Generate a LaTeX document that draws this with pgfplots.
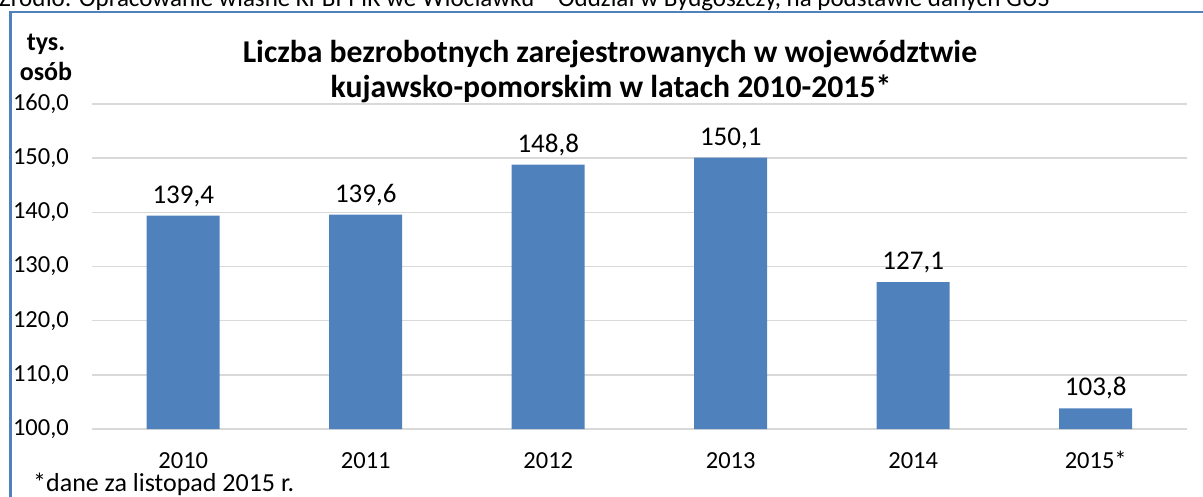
\documentclass[border=0pt]{standalone}
\usepackage{pgfplots}
\pgfplotsset{compat=1.18}
\usepackage{fontspec}
\setmainfont{Carlito}
\definecolor{barblue}{HTML}{4F81BD}
\definecolor{gridgray}{HTML}{D9D9D9}
\begin{document}
\begin{tikzpicture}[x=1pt,y=1pt]
\useasboundingbox (0,0) rectangle (1203,-496);
\clip (0,0) rectangle (1203,-496);
\node[anchor=base west, inner sep=0pt, font=\fontsize{25}{30}\selectfont] at (-1,-6) {Źródło: Opracowanie własne KPBPPiR we Włocławku – Oddział w Bydgoszczy, na podstawie danych GUS};
\draw[barblue, line width=2.5pt] (1210,-12) -- (10.5,-12) -- (10.5,-505);
\begin{axis}[
  at={(92pt,-429pt)}, anchor=south west, scale only axis,
  width=1095pt, height=325pt,
  ymin=100, ymax=160, ytick={100,110,...,160},
  xmin=-0.5, xmax=5.5,
  xtick={0,...,5}, xticklabels={2010,2011,2012,2013,2014,2015*},
  /pgf/number format/assume math mode=true,
  axis line style={-}, axis x line*=bottom, axis y line*=left,
  y axis line style={draw=none},
  x axis line style={gridgray, line width=1.5pt},
  tick style={draw=none}, major tick length=0pt,
  ymajorgrids, major grid style={gridgray, line width=1.5pt},
  ticklabel style={font=\fontsize{24.5}{29}\selectfont, text=black},
  yticklabel style={anchor=east, inner sep=0pt, xshift=-23pt,
    /pgf/number format/.cd, fixed, fixed zerofill, precision=1, use comma},
  xticklabel style={anchor=base, inner sep=0pt, yshift=-39pt},
  nodes near coords={\pgfmathprintnumber[fixed,fixed zerofill,precision=1,use comma]{\pgfplotspointmeta}},
  nodes near coords style={font=\fontsize{27}{32}\selectfont, anchor=base, inner sep=0pt, yshift=12.5pt, text=black},
  clip=false,
]
\addplot[ybar, bar width=73pt, fill=barblue, draw=none] coordinates {
  (0,139.4) (1,139.6) (2,148.8) (3,150.1) (4,127.1) (5,103.8)
};
\end{axis}
\node[anchor=base, font=\bfseries\fontsize{31.7}{38}\selectfont] at (610,-62) {Liczba bezrobotnych zarejestrowanych w województwie};
\node[anchor=base, font=\bfseries\fontsize{31.7}{38}\selectfont] at (611,-97) {kujawsko-pomorskim w latach 2010-2015*};
\node[anchor=base, font=\bfseries\fontsize{26}{31}\selectfont] at (46,-50) {tys.};
\node[anchor=base, font=\bfseries\fontsize{26}{31}\selectfont] at (46,-80) {osób};
\node[anchor=base west, inner sep=0pt, font=\fontsize{26}{31}\selectfont] at (33,-491) {*dane za listopad 2015 r.};
\end{tikzpicture}
\end{document}
